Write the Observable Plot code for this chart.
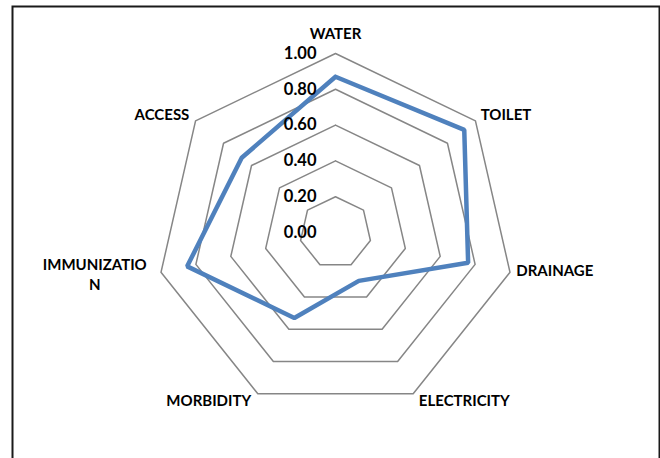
<!DOCTYPE html>
<html>
<head>
<meta charset="utf-8">
<script src="https://cdn.jsdelivr.net/npm/d3@7"></script>
<script src="https://cdn.jsdelivr.net/npm/@observablehq/plot@0.6"></script>
<style>
  html, body { margin: 0; padding: 0; background: #fff; }
  #chart svg { display: block; }
</style>
</head>
<body>
<div id="chart"></div>
<script>
const categories = ["WATER", "TOILET", "DRAINAGE", "ELECTRICITY", "MORBIDITY", "IMMUNIZATION", "ACCESS"];
const categoryLabels = ["WATER", "TOILET", "DRAINAGE", "ELECTRICITY", "MORBIDITY", "IMMUNIZATIO\nN", "ACCESS"];
const values = [0.87, 0.92, 0.76, 0.30, 0.53, 0.85, 0.67];
const tickValues = [0, 0.2, 0.4, 0.6, 0.8, 1.0];
const tickLabels = ["0.00", "0.20", "0.40", "0.60", "0.80", "1.00"];

const n = categories.length;
const angle = i => Math.PI / 2 - i * 2 * Math.PI / n;
const px = (r, i) => r * Math.cos(angle(i));
const py = (r, i) => r * Math.sin(angle(i));

// grid polygons
const grid = [];
tickValues.filter(t => t > 0).forEach(t => {
  for (let i = 0; i <= n; i++) grid.push({t, x: px(t, i % n), y: py(t, i % n)});
});
// data polygon
const series = [];
for (let i = 0; i <= n; i++) {
  const k = i % n;
  series.push({cat: categories[k], x: px(values[k], k), y: py(values[k], k)});
}
const ticks = tickValues.map((t, i) => ({label: tickLabels[i], x: 0, y: t}));
const labels = categories.map((c, i) => ({cat: c, label: categoryLabels[i], i}));

const R = 179, cx = 335, cy = 232, W = 660, H = 458;
const font = "Lato, 'Open Sans', sans-serif";
const lrOf = i => (Math.sin(angle(i)) < -0.8 ? 1.06 : 1.03);
const fs = 15;
const startSet = new Set(["TOILET", "DRAINAGE", "ELECTRICITY"]);
const endSet = new Set(["MORBIDITY", "ACCESS"]);

const chart = Plot.plot({
  width: W, height: H,
  margin: 0,
  x: {domain: [-cx / R, (W - cx) / R], range: [0, W], axis: null},
  y: {domain: [-(H - cy) / R, cy / R], range: [H, 0], axis: null},
  style: {fontFamily: font, background: "#fff"},
  marks: [
    Plot.frame({stroke: "#1a1a1a", strokeWidth: 2, insetLeft: 12, insetTop: 6, insetRight: 1, insetBottom: -10}),
    Plot.line(grid, {x: "x", y: "y", z: "t", stroke: "#868686", strokeWidth: 1.5}),
    Plot.line(series, {x: "x", y: "y", stroke: "#4F81BD", strokeWidth: 4.5, strokeLinejoin: "miter"}),
    Plot.text(ticks, {x: "x", y: "y", text: "label", textAnchor: "end", dx: -19, fontSize: 16.5, fontWeight: "bold", fill: "#000"}),
    Plot.text(labels.filter(d => d.cat === "WATER"), {x: d => px(1.11, d.i), y: d => py(1.11, d.i), text: "label", textAnchor: "middle", fontSize: fs, fontWeight: "bold", fill: "#000"}),
    Plot.text(labels.filter(d => startSet.has(d.cat)), {x: d => px(lrOf(d.i), d.i), y: d => py(lrOf(d.i), d.i), text: "label", textAnchor: "start", dx: 1, dy: -2, fontSize: fs, fontWeight: "bold", fill: "#000"}),
    Plot.text(labels.filter(d => endSet.has(d.cat)), {x: d => px(lrOf(d.i), d.i), y: d => py(lrOf(d.i), d.i), text: "label", textAnchor: "end", dx: -2, dy: -2, fontSize: fs, fontWeight: "bold", fill: "#000"}),
    Plot.text(labels.filter(d => d.cat === "IMMUNIZATION"), {x: d => px(1.03, d.i), y: d => py(1.03, d.i), text: "label", textAnchor: "middle", lineHeight: 1.35, dx: -61, dy: 0, fontSize: fs, fontWeight: "bold", fill: "#000"})
  ]
});
document.getElementById("chart").appendChild(chart);
</script>
</body>
</html>
